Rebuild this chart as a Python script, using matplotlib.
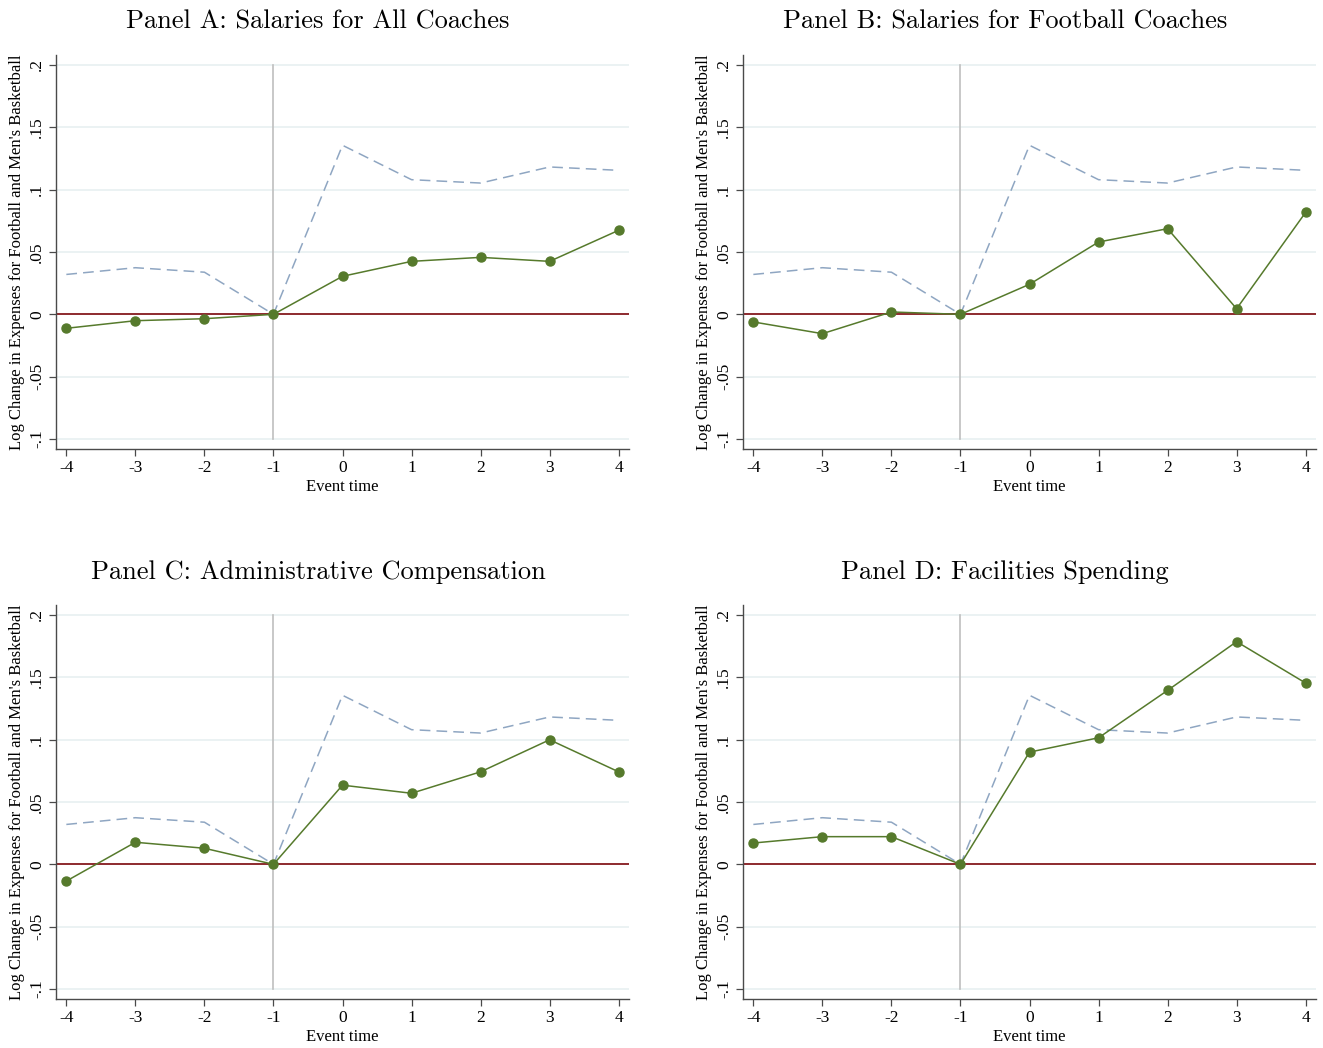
import matplotlib
matplotlib.use("Agg")
import matplotlib.pyplot as plt

# Event time and tick labels
event_time = [-4, -3, -2, -1, 0, 1, 2, 3, 4]
x_tick_labels = ["-4", "-3", "-2", "-1", "0", "1", "2", "3", "4"]
y_ticks = [-0.1, -0.05, 0.0, 0.05, 0.1, 0.15, 0.2]
y_tick_labels = ["-.1", "-.05", "0", ".05", ".1", ".15", ".2"]

# Comparison series (dashed), common to all panels
comparison = [0.032, 0.0374, 0.0338, 0.0, 0.1356, 0.108, 0.1053, 0.1182, 0.1155]

# Estimated effects per panel
coaches_all = [-0.0112, -0.0051, -0.0035, 0.0, 0.0305, 0.0425, 0.0457, 0.0425, 0.0674]
coaches_football = [-0.0061, -0.0155, 0.0019, 0.0, 0.0241, 0.058, 0.0687, 0.0045, 0.0818]
admin_comp = [-0.0134, 0.0177, 0.0129, 0.0, 0.0635, 0.057, 0.0742, 0.0999, 0.0742]
facilities = [0.0171, 0.0222, 0.0222, 0.0, 0.09, 0.1015, 0.1395, 0.1786, 0.1454]

titles = [
    "Panel A: Salaries for All Coaches",
    "Panel B: Salaries for Football Coaches",
    "Panel C: Administrative Compensation",
    "Panel D: Facilities Spending",
]
series = [coaches_all, coaches_football, admin_comp, facilities]

y_label = "Log Change in Expenses for Football and Men's Basketball"
x_label = "Event time"

GREEN = "#567a2c"
MAROON = "#8e2a2e"
DASH = "#8fa6c2"
VLINE = "#bfbfbf"
GRID = "#e8f0f1"
AXIS = "#4a4a4a"

SERIF = ["Liberation Serif", "DejaVu Serif"]
TITLE_FONT = ["cmr10", "DejaVu Serif"]

fig = plt.figure(figsize=(13.23, 10.48), dpi=100)
W, H = 1323, 1048

# axes boxes in pixels: left, right, top, bottom
boxes = [
    (56, 629, 55, 449),
    (743, 1316, 55, 449),
    (56, 629, 605, 999),
    (743, 1316, 605, 999),
]
title_centers = [(318, 22), (1005, 22), (318, 572), (1005, 572)]

for (l, r, t, b), title, vals, (tx, ty) in zip(boxes, titles, series, title_centers):
    ax = fig.add_axes([l / W, 1 - b / H, (r - l) / W, (b - t) / H])
    ax.set_xlim(-4.15, 4.15)
    ax.set_ylim(-0.108, 0.208)

    for yv in y_ticks:
        ax.axhline(yv, color=GRID, lw=1.2, zorder=0)
    ax.plot([-1, -1], [-0.1, 0.2], color=VLINE, lw=1.2, zorder=1)
    ax.axhline(0, color=MAROON, lw=1.4, zorder=2)
    ax.plot(event_time, comparison, color=DASH, lw=1.1, dashes=(7, 4), zorder=3)
    ax.plot(event_time, vals, color=GREEN, lw=1.1, marker="o", ms=6.5,
            markeredgecolor=GREEN, zorder=4)

    for s in ("top", "right"):
        ax.spines[s].set_visible(False)
    for s in ("left", "bottom"):
        ax.spines[s].set_color(AXIS)
        ax.spines[s].set_linewidth(1.0)

    ax.set_xticks(event_time)
    ax.set_xticklabels(x_tick_labels, fontfamily=SERIF, fontsize=12.5)
    ax.set_yticks(y_ticks)
    ax.set_yticklabels(y_tick_labels, fontfamily=SERIF, fontsize=12.5,
                       rotation=90, va="center")
    ax.tick_params(axis="both", direction="out", length=5, width=0.9,
                   color=AXIS, pad=3)
    ax.set_xlabel(x_label, fontfamily=SERIF, fontsize=12, labelpad=2)
    ax.set_ylabel(y_label, fontfamily=SERIF, fontsize=12, labelpad=3)

    fig.text(tx / W, 1 - ty / H, title, fontfamily=TITLE_FONT, fontsize=19,
             ha="center", va="center")

fig.savefig("out.png", dpi=100, facecolor="white")
